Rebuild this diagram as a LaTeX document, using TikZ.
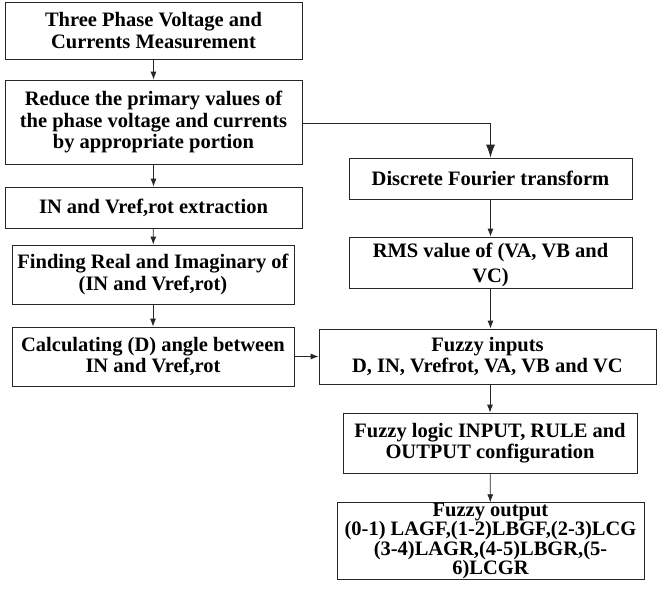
\documentclass[tikz,border=0pt]{standalone}
\usepackage{fontspec}
\setmainfont{Liberation Serif}
\usetikzlibrary{arrows.meta}
\begin{document}
\begin{tikzpicture}[x=1pt,y=-1pt,
  stepbox/.style={draw=black!85, line width=0.8pt, inner sep=0pt, align=center,
    font=\fontsize{20.5}{21.5}\selectfont\bfseries},
  conn/.style={draw=black!85, line width=0.8pt, -{Latex[length=8pt,width=6pt]}},
  bigconn/.style={draw=black!85, line width=0.8pt, -{Latex[length=13pt,width=9pt]}}]
\useasboundingbox (0,0) rectangle (657,598);
% left column
\node[stepbox, minimum width=297pt, minimum height=57pt] (b1) at (153.5,30.5)
  {Three Phase Voltage and\\Currents Measurement};
\node[stepbox, minimum width=297pt, minimum height=84pt] (b2) at (153.5,122)
  {Reduce the primary values of\\the phase voltage and currents\\by appropriate portion};
\node[stepbox, minimum width=297pt, minimum height=41pt] (b3) at (153.5,207.5)
  {IN and Vref,rot extraction};
\node[stepbox, minimum width=282pt, minimum height=59pt] (b4) at (153,274.5)
  {Finding Real and Imaginary of\\(IN and Vref,rot)};
\node[stepbox, minimum width=282pt, minimum height=59pt] (b5) at (153,356.5)
  {Calculating (D) angle between\\IN and Vref,rot};
% right column
\node[stepbox, minimum width=283pt, minimum height=41pt] (dft) at (490.5,178.5)
  {Discrete Fourier transform};
\node[stepbox, minimum width=283pt, minimum height=51pt] (rms) at (490.5,262.5) {};
\node[align=center, font=\fontsize{20.5}{25}\selectfont\bfseries, inner sep=0pt]
  (rmstext) at (490.5,265) {RMS value of (VA, VB and\\VC)};
\node[stepbox, minimum width=337pt, minimum height=55pt] (fin) at (487.5,356.5)
  {Fuzzy inputs\\D, IN, Vrefrot, VA, VB and VC};
\node[stepbox, minimum width=294pt, minimum height=60pt] (flc) at (490,443)
  {Fuzzy logic INPUT, RULE and\\OUTPUT configuration};
\node[stepbox, minimum width=307pt, minimum height=76pt,
  font=\fontsize{20.5}{18.5}\selectfont\bfseries] (fout) at (490.5,541)
  {Fuzzy output\\(0-1) LAGF,(1-2)LBGF,(2-3)LCG\\(3-4)LAGR,(4-5)LBGR,(5-\\6)LCGR};
% connectors
\draw[conn] (b1) -- (b2);
\draw[conn] (b2) -- (b3);
\draw[conn] (b3) -- (b4);
\draw[conn] (b4) -- (b5);
\draw[bigconn] (b2.east |- 0,123) -| (dft.north);
\draw[conn] (dft) -- (rms);
\draw[conn] (rms.south) -- (rms.south |- fin.north);
\draw[conn] (b5.east) -- (fin.west |- b5.east);
\draw[conn] (flc.north |- fin.south) -- (flc.north);
\draw[conn] (flc) -- (fout);
\end{tikzpicture}
\end{document}
